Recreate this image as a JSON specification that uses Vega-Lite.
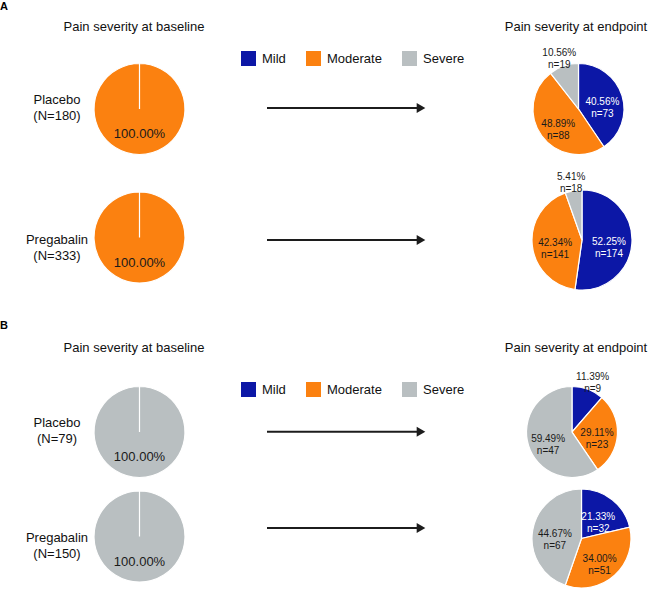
{
  "$schema": "https://vega.github.io/schema/vega-lite/v6.json",
  "width": 649,
  "height": 591,
  "autosize": {"type": "none"},
  "padding": 0,
  "background": "white",
  "config": {
    "view": {"stroke": null},
    "text": {"font": "Liberation Sans"}
  },
  "data": {
    "values": [
      {"panel": "A", "group": "Placebo", "N": 180, "time": "baseline", "severity": "Moderate", "pct": 100, "n": 180},
      {"panel": "A", "group": "Pregabalin", "N": 333, "time": "baseline", "severity": "Moderate", "pct": 100, "n": 333},
      {"panel": "A", "group": "Placebo", "N": 180, "time": "endpoint", "severity": "Mild", "pct": 40.56, "n": 73},
      {"panel": "A", "group": "Placebo", "N": 180, "time": "endpoint", "severity": "Moderate", "pct": 48.89, "n": 88},
      {"panel": "A", "group": "Placebo", "N": 180, "time": "endpoint", "severity": "Severe", "pct": 10.56, "n": 19},
      {"panel": "A", "group": "Pregabalin", "N": 333, "time": "endpoint", "severity": "Mild", "pct": 52.25, "n": 174},
      {"panel": "A", "group": "Pregabalin", "N": 333, "time": "endpoint", "severity": "Moderate", "pct": 42.34, "n": 141},
      {"panel": "A", "group": "Pregabalin", "N": 333, "time": "endpoint", "severity": "Severe", "pct": 5.41, "n": 18},
      {"panel": "B", "group": "Placebo", "N": 79, "time": "baseline", "severity": "Severe", "pct": 100, "n": 79},
      {"panel": "B", "group": "Pregabalin", "N": 150, "time": "baseline", "severity": "Severe", "pct": 100, "n": 150},
      {"panel": "B", "group": "Placebo", "N": 79, "time": "endpoint", "severity": "Mild", "pct": 11.39, "n": 9},
      {"panel": "B", "group": "Placebo", "N": 79, "time": "endpoint", "severity": "Moderate", "pct": 29.11, "n": 23},
      {"panel": "B", "group": "Placebo", "N": 79, "time": "endpoint", "severity": "Severe", "pct": 59.49, "n": 47},
      {"panel": "B", "group": "Pregabalin", "N": 150, "time": "endpoint", "severity": "Mild", "pct": 21.33, "n": 32},
      {"panel": "B", "group": "Pregabalin", "N": 150, "time": "endpoint", "severity": "Moderate", "pct": 34.00, "n": 51},
      {"panel": "B", "group": "Pregabalin", "N": 150, "time": "endpoint", "severity": "Severe", "pct": 44.67, "n": 67}
    ]
  },
  "transform": [
    {"stack": "pct", "groupby": ["panel", "group", "time"], "offset": "normalize", "sort": [{"field": "severity", "order": "ascending"}], "as": ["t0", "t1"]},
    {"calculate": "(datum.t0 + datum.t1) / 2", "as": "tm"},
    {"calculate": "datum.time == 'baseline' ? format(datum.pct, '.2f') + '%' : format(datum.pct, '.2f') + '%\\nn=' + datum.n", "as": "label"}
  ],
  "layer": [
    {
      "transform": [{"filter": "datum.panel == 'A' && !(datum.time == 'endpoint' && datum.group == 'Pregabalin')"}],
      "encoding": {
        "x": {"field": "time", "type": "nominal", "scale": {"type": "point", "domain": ["baseline", "endpoint"], "range": [139.5, 578.5], "padding": 0}, "axis": null},
        "y": {"field": "group", "type": "nominal", "scale": {"type": "point", "domain": ["Placebo", "Pregabalin"], "range": [109, 237.5], "padding": 0}, "axis": null}
      },
      "layer": [
        {
          "mark": {"type": "arc", "outerRadius": 45.5, "stroke": "white", "strokeWidth": 1.2},
          "encoding": {
            "theta": {"field": "t0", "type": "quantitative", "scale": {"domain": [0, 1.00001]}},
            "theta2": {"field": "t1"},
            "color": {"field": "severity", "type": "nominal", "scale": {"domain": ["Mild", "Moderate", "Severe"], "range": ["#0c17a6", "#fb8110", "#b9bfc1"]},
              "legend": {"orient": "none", "legendX": 241, "legendY": 51, "direction": "horizontal", "title": null, "symbolType": "square", "symbolSize": 225, "symbolStrokeWidth": 0, "symbolOpacity": 1, "labelFontSize": 13, "labelFont": "Liberation Sans", "labelColor": "#111111", "columnPadding": 20, "labelOffset": 6, "padding": 0}}
          }
        },
        {
          "mark": {"type": "text", "lineBreak": "\n", "lineHeight": 12, "align": "center", "baseline": "middle"},
          "encoding": {
            "theta": {"field": "tm", "type": "quantitative"},
            "radius": {"field": "pct", "type": "quantitative", "scale": {"type": "linear", "domain": [15, 20], "range": [59, 25], "clamp": true, "zero": false}},
            "text": {"field": "label"},
            "size": {"condition": {"test": "datum.time == 'baseline'", "value": 13}, "value": 10},
            "color": {"condition": {"test": "datum.severity == 'Mild' && datum.pct > 15", "value": "#ffffff"}, "value": "#1a1a1a"}
          }
        }
      ]
    },
    {
      "transform": [{"filter": "datum.panel == 'A' && datum.time == 'endpoint' && datum.group == 'Pregabalin'"}],
      "encoding": {
        "x": {"field": "time", "type": "nominal", "scale": {"type": "point", "domain": ["baseline", "endpoint"], "range": [139.5, 582], "padding": 0}, "axis": null},
        "y": {"field": "group", "type": "nominal", "scale": {"type": "point", "domain": ["Placebo", "Pregabalin"], "range": [109, 240], "padding": 0}, "axis": null}
      },
      "layer": [
        {
          "mark": {"type": "arc", "outerRadius": 50, "stroke": "white", "strokeWidth": 1.2},
          "encoding": {
            "theta": {"field": "t0", "type": "quantitative", "scale": {"domain": [0, 1.00001]}},
            "theta2": {"field": "t1"},
            "color": {"field": "severity", "type": "nominal", "scale": {"domain": ["Mild", "Moderate", "Severe"], "range": ["#0c17a6", "#fb8110", "#b9bfc1"]}, "legend": null}
          }
        },
        {
          "mark": {"type": "text", "lineBreak": "\n", "lineHeight": 12, "align": "center", "baseline": "middle"},
          "encoding": {
            "theta": {"field": "tm", "type": "quantitative"},
            "radius": {"field": "pct", "type": "quantitative", "scale": {"type": "linear", "domain": [15, 20], "range": [64, 27], "clamp": true, "zero": false}},
            "text": {"field": "label"},
            "size": {"value": 10},
            "color": {"condition": {"test": "datum.severity == 'Mild' && datum.pct > 15", "value": "#ffffff"}, "value": "#1a1a1a"}
          }
        }
      ]
    },
    {
      "transform": [{"filter": "datum.panel == 'B' && !(datum.time == 'endpoint' && datum.group == 'Pregabalin')"}],
      "encoding": {
        "x": {"field": "time", "type": "nominal", "scale": {"type": "point", "domain": ["baseline", "endpoint"], "range": [139.5, 572], "padding": 0}, "axis": null},
        "y": {"field": "group", "type": "nominal", "scale": {"type": "point", "domain": ["Placebo", "Pregabalin"], "range": [432, 536.5], "padding": 0}, "axis": null}
      },
      "layer": [
        {
          "mark": {"type": "arc", "outerRadius": 45.5, "stroke": "white", "strokeWidth": 1.2},
          "encoding": {
            "theta": {"field": "t0", "type": "quantitative", "scale": {"domain": [0, 1.00001]}},
            "theta2": {"field": "t1"},
            "color": {"field": "severity", "type": "nominal", "scale": {"domain": ["Mild", "Moderate", "Severe"], "range": ["#0c17a6", "#fb8110", "#b9bfc1"]},
              "legend": {"orient": "none", "legendX": 241, "legendY": 382, "direction": "horizontal", "title": null, "symbolType": "square", "symbolSize": 225, "symbolStrokeWidth": 0, "symbolOpacity": 1, "labelFontSize": 13, "labelFont": "Liberation Sans", "labelColor": "#111111", "columnPadding": 20, "labelOffset": 6, "padding": 0}}
          }
        },
        {
          "mark": {"type": "text", "lineBreak": "\n", "lineHeight": 12, "align": "center", "baseline": "middle"},
          "encoding": {
            "theta": {"field": "tm", "type": "quantitative"},
            "radius": {"field": "pct", "type": "quantitative", "scale": {"type": "linear", "domain": [15, 20], "range": [59, 25], "clamp": true, "zero": false}},
            "text": {"field": "label"},
            "size": {"condition": {"test": "datum.time == 'baseline'", "value": 13}, "value": 10},
            "color": {"condition": {"test": "datum.severity == 'Mild' && datum.pct > 15", "value": "#ffffff"}, "value": "#1a1a1a"}
          }
        }
      ]
    },
    {
      "transform": [{"filter": "datum.panel == 'B' && datum.time == 'endpoint' && datum.group == 'Pregabalin'"}],
      "encoding": {
        "x": {"field": "time", "type": "nominal", "scale": {"type": "point", "domain": ["baseline", "endpoint"], "range": [139.5, 581.5], "padding": 0}, "axis": null},
        "y": {"field": "group", "type": "nominal", "scale": {"type": "point", "domain": ["Placebo", "Pregabalin"], "range": [432, 538.5], "padding": 0}, "axis": null}
      },
      "layer": [
        {
          "mark": {"type": "arc", "outerRadius": 49.5, "stroke": "white", "strokeWidth": 1.2},
          "encoding": {
            "theta": {"field": "t0", "type": "quantitative", "scale": {"domain": [0, 1.00001]}},
            "theta2": {"field": "t1"},
            "color": {"field": "severity", "type": "nominal", "scale": {"domain": ["Mild", "Moderate", "Severe"], "range": ["#0c17a6", "#fb8110", "#b9bfc1"]}, "legend": null}
          }
        },
        {
          "mark": {"type": "text", "lineBreak": "\n", "lineHeight": 12, "align": "center", "baseline": "middle"},
          "encoding": {
            "theta": {"field": "tm", "type": "quantitative"},
            "radius": {"field": "pct", "type": "quantitative", "scale": {"type": "linear", "domain": [15, 20], "range": [63, 27], "clamp": true, "zero": false}},
            "text": {"field": "label"},
            "size": {"value": 10},
            "color": {"condition": {"test": "datum.severity == 'Mild' && datum.pct > 15", "value": "#ffffff"}, "value": "#1a1a1a"}
          }
        }
      ]
    },
    {
      "transform": [
        {"filter": "datum.panel == 'A' && datum.time == 'baseline'"},
        {"calculate": "datum.group + '\\n(N=' + datum.N + ')'", "as": "glabel"}
      ],
      "mark": {"type": "text", "lineBreak": "\n", "lineHeight": 16, "fontSize": 13, "align": "center", "baseline": "middle", "color": "#111111"},
      "encoding": {
        "x": {"field": "time", "type": "nominal", "scale": {"type": "point", "domain": ["baseline", "endpoint"], "range": [57, 500], "padding": 0}, "axis": null},
        "y": {"field": "group", "type": "nominal", "scale": {"type": "point", "domain": ["Placebo", "Pregabalin"], "range": [100, 240], "padding": 0}, "axis": null},
        "text": {"field": "glabel"}
      }
    },
    {
      "transform": [
        {"filter": "datum.panel == 'B' && datum.time == 'baseline'"},
        {"calculate": "datum.group + '\\n(N=' + datum.N + ')'", "as": "glabel"}
      ],
      "mark": {"type": "text", "lineBreak": "\n", "lineHeight": 16, "fontSize": 13, "align": "center", "baseline": "middle", "color": "#111111"},
      "encoding": {
        "x": {"field": "time", "type": "nominal", "scale": {"type": "point", "domain": ["baseline", "endpoint"], "range": [57, 500], "padding": 0}, "axis": null},
        "y": {"field": "group", "type": "nominal", "scale": {"type": "point", "domain": ["Placebo", "Pregabalin"], "range": [423, 538], "padding": 0}, "axis": null},
        "text": {"field": "glabel"}
      }
    },
    {
      "transform": [{"filter": "datum.panel == 'A' && datum.time == 'baseline'"}],
      "encoding": {
        "y": {"field": "group", "type": "nominal", "scale": {"type": "point", "domain": ["Placebo", "Pregabalin"], "range": [108, 240], "padding": 0}, "axis": null}
      },
      "layer": [
        {
          "mark": {"type": "rule", "strokeWidth": 2, "color": "#1c1c1c"},
          "encoding": {
            "x": {"field": "time", "type": "nominal", "scale": {"type": "point", "domain": ["baseline", "endpoint"], "range": [267, 421], "padding": 0}, "axis": null},
            "x2": {"datum": "endpoint"}
          }
        },
        {
          "mark": {"type": "point", "shape": "triangle-right", "size": 100, "filled": true, "opacity": 1, "color": "#1c1c1c"},
          "encoding": {
            "x": {"datum": "endpoint", "type": "nominal"}
          }
        }
      ]
    },
    {
      "transform": [{"filter": "datum.panel == 'B' && datum.time == 'baseline'"}],
      "encoding": {
        "y": {"field": "group", "type": "nominal", "scale": {"type": "point", "domain": ["Placebo", "Pregabalin"], "range": [431.7, 528], "padding": 0}, "axis": null}
      },
      "layer": [
        {
          "mark": {"type": "rule", "strokeWidth": 2, "color": "#1c1c1c"},
          "encoding": {
            "x": {"field": "time", "type": "nominal", "scale": {"type": "point", "domain": ["baseline", "endpoint"], "range": [267, 421], "padding": 0}, "axis": null},
            "x2": {"datum": "endpoint"}
          }
        },
        {
          "mark": {"type": "point", "shape": "triangle-right", "size": 100, "filled": true, "opacity": 1, "color": "#1c1c1c"},
          "encoding": {
            "x": {"datum": "endpoint", "type": "nominal"}
          }
        }
      ]
    },
    {
      "transform": [
        {"aggregate": [{"op": "count", "as": "cnt"}], "groupby": ["panel", "time"]},
        {"calculate": "'Pain severity at ' + datum.time", "as": "title"}
      ],
      "mark": {"type": "text", "fontSize": 13, "align": "center", "baseline": "middle", "color": "#111111"},
      "encoding": {
        "x": {"field": "time", "type": "nominal", "scale": {"type": "point", "domain": ["baseline", "endpoint"], "range": [134, 576], "padding": 0}, "axis": null},
        "y": {"field": "panel", "type": "nominal", "scale": {"type": "point", "domain": ["A", "B"], "range": [26.5, 348], "padding": 0}, "axis": null},
        "text": {"field": "title"}
      }
    },
    {
      "transform": [
        {"aggregate": [{"op": "count", "as": "cnt"}], "groupby": ["panel"]}
      ],
      "mark": {"type": "text", "fontSize": 11, "fontWeight": "bold", "align": "center", "baseline": "middle", "color": "#000000"},
      "encoding": {
        "x": {"field": "panel", "type": "nominal", "scale": {"type": "point", "domain": ["A", "B"], "range": [4, 4], "padding": 0}, "axis": null},
        "y": {"field": "panel", "type": "nominal", "scale": {"type": "point", "domain": ["A", "B"], "range": [7, 326], "padding": 0}, "axis": null},
        "text": {"field": "panel"}
      }
    }
  ],
  "resolve": {
    "scale": {"x": "independent", "y": "independent", "color": "independent", "theta": "independent", "radius": "independent"},
    "legend": {"color": "independent"}
  }
}
